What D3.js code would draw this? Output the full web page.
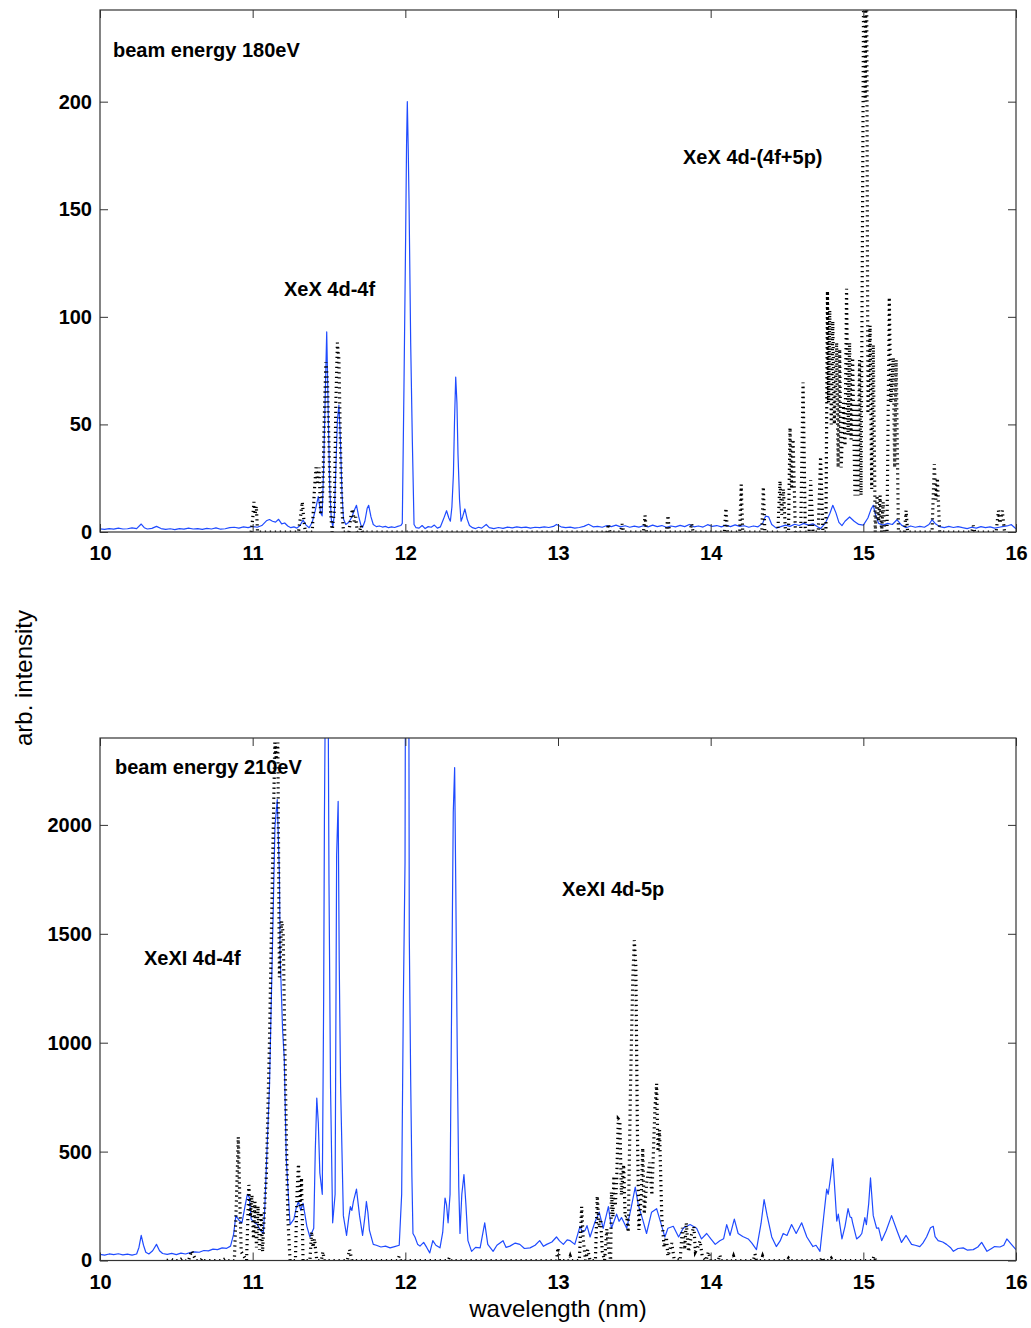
<!DOCTYPE html>
<html>
<head>
<meta charset="utf-8">
<script src="https://cdn.jsdelivr.net/npm/d3@7"></script>
<style>
  body { margin: 0; background: #fff; }
  svg { display: block; }
  text { font-family: "Liberation Sans", Arial, Helvetica, sans-serif; fill: #000; }
</style>
</head>
<body>
<svg id="chart" width="1031" height="1328"></svg>
<script>
// ---- axis ticks ----
const wavelengthTicks = [10, 11, 12, 13, 14, 15, 16];
const intensityTicks180 = [0, 50, 100, 150, 200];
const intensityTicks210 = [0, 500, 1000, 1500, 2000];

// ---- 180 eV: measured spectrum [wavelength nm, intensity] ----
const measured180 = [
  [10.00,1.5],[10.03,1.2],[10.06,1.6],[10.09,1.3],[10.12,1.8],[10.15,1.4],[10.18,1.5],[10.21,1.9],[10.24,1.6],
  [10.27,3.7],[10.29,2.0],[10.31,1.4],[10.34,1.7],[10.37,2.6],[10.40,1.6],[10.43,1.2],[10.46,1.5],[10.49,1.1],
  [10.52,1.6],[10.55,1.3],[10.58,1.8],[10.61,1.4],[10.64,1.6],[10.67,1.2],[10.70,1.7],[10.73,1.4],[10.76,1.9],
  [10.79,1.3],[10.82,1.5],[10.85,2.0],[10.88,2.2],[10.91,1.8],[10.94,2.4],[10.97,2.0],[11.00,2.6],[11.03,2.2],
  [11.06,3.0],[11.09,5.2],[11.11,5.8],[11.13,5.0],[11.15,4.6],[11.17,5.9],[11.19,3.8],[11.21,4.2],[11.23,2.8],
  [11.25,2.0],[11.27,2.4],[11.29,1.8],[11.31,3.0],[11.33,5.5],[11.35,3.2],[11.37,2.0],[11.39,4.5],[11.41,10.0],
  [11.43,16.5],[11.445,9.0],[11.455,7.5],[11.465,30],[11.475,62],[11.485,93],[11.495,55],[11.505,20],[11.515,6],
  [11.525,2.5],[11.535,8],[11.545,30],[11.555,52],[11.565,59],[11.575,42],[11.585,18],[11.595,6],[11.61,3.5],
  [11.63,4.5],[11.65,7],[11.665,10],[11.68,12.4],[11.695,7],[11.71,3],[11.72,2.2],[11.735,5],[11.75,11],
  [11.76,12.4],[11.775,7],[11.79,3.5],[11.81,2.5],[11.83,2.8],[11.85,2.3],[11.87,2.6],[11.89,2.0],[11.91,2.4],
  [11.93,2.1],[11.95,2.6],[11.97,3.0],[11.98,4],[11.991,67],[12.002,137],[12.008,180],[12.013,200],[12.019,178],
  [12.024,155],[12.035,88],[12.046,42],[12.057,3.5],[12.07,2.0],[12.09,1.8],[12.11,3.0],[12.13,1.6],[12.15,2.5],
  [12.17,2.2],[12.19,3.2],[12.21,1.8],[12.23,2.4],[12.25,6.0],[12.27,9.9],[12.285,6.5],[12.295,5.0],[12.305,11.6],
  [12.315,27],[12.322,51],[12.33,72],[12.338,60],[12.345,36],[12.355,15],[12.365,5],[12.375,7],[12.39,10.7],
  [12.405,6],[12.42,3],[12.44,2.0],[12.46,1.6],[12.48,2.2],[12.50,1.8],[12.53,3.5],[12.55,2.0],[12.58,1.6],
  [12.61,2.1],[12.64,1.7],[12.67,2.3],[12.70,1.9],[12.73,2.4],[12.76,2.0],[12.79,2.3],[12.82,1.8],[12.85,2.2],
  [12.88,2.0],[12.91,2.4],[12.94,2.1],[12.97,2.6],[12.99,3.5],[13.02,2.4],[13.05,2.0],[13.08,2.3],[13.11,1.8],
  [13.14,2.1],[13.17,2.6],[13.20,3.6],[13.23,2.4],[13.26,2.6],[13.29,2.2],[13.32,3.0],[13.35,2.5],[13.38,3.2],
  [13.41,2.4],[13.44,2.9],[13.47,2.2],[13.50,2.7],[13.53,2.3],[13.56,2.9],[13.59,2.4],[13.62,3.2],[13.65,2.5],
  [13.68,3.0],[13.71,2.2],[13.74,2.8],[13.77,2.4],[13.80,3.1],[13.83,2.5],[13.86,3.5],[13.89,2.4],[13.92,2.8],
  [13.95,2.3],[13.98,3.4],[14.01,2.6],[14.04,3.0],[14.07,2.4],[14.10,3.2],[14.13,2.5],[14.16,3.3],[14.19,2.6],
  [14.22,2.9],[14.25,2.2],[14.28,2.8],[14.31,2.4],[14.34,4.0],[14.36,7.4],[14.38,7.0],[14.40,3.5],[14.43,1.8],
  [14.46,2.5],[14.49,3.2],[14.52,2.6],[14.55,3.6],[14.58,3.0],[14.61,4.0],[14.64,3.2],[14.67,3.8],[14.70,2.4],
  [14.72,1.6],[14.75,4.0],[14.78,8.5],[14.80,12.4],[14.82,9.0],[14.84,4.5],[14.86,3.0],[14.88,5.0],[14.91,7.0],
  [14.94,5.0],[14.97,3.5],[15.00,3.2],[15.03,6.5],[15.05,10.5],[15.065,12.4],[15.08,8.0],[15.10,4.0],[15.13,3.2],
  [15.16,4.0],[15.19,3.5],[15.22,5.7],[15.25,3.2],[15.28,2.0],[15.31,2.8],[15.34,2.2],[15.37,2.6],[15.40,2.2],
  [15.43,3.5],[15.45,5.7],[15.47,4.0],[15.50,2.5],[15.53,2.0],[15.56,2.6],[15.59,2.1],[15.62,2.5],[15.65,2.0],
  [15.68,1.6],[15.71,2.2],[15.74,1.8],[15.77,2.5],[15.80,2.0],[15.83,2.4],[15.86,1.8],[15.89,2.2],[15.92,2.6],
  [15.95,3.0],[15.97,3.4],[16.00,1.5]
];

// ---- 180 eV: calculated XeX spectrum ----
const calculated180 = [
  [10.00,0],[10.99,0],[11.000,6],[11.008,14],[11.016,8],[11.024,12],[11.032,0],
  [11.30,0],[11.315,8],[11.325,14],[11.335,6],[11.345,0],
  [11.39,0],[11.405,20],[11.415,30],[11.425,22],[11.435,30],[11.445,8],[11.46,20],[11.47,55],[11.48,79],
  [11.49,70],[11.50,40],[11.51,10],[11.52,0],[11.535,10],[11.545,60],[11.555,88],[11.565,80],[11.575,40],
  [11.585,10],[11.595,0],[11.63,0],[11.645,8],[11.655,10.7],[11.665,5],[11.675,7],[11.685,0],[11.70,0],
  [11.71,3],[11.72,0],
  [13.32,0],[13.33,3.7],[13.34,0],[13.41,0],[13.42,3.7],[13.43,0],[13.56,0],[13.57,7.7],[13.58,0],
  [13.71,0],[13.72,7.7],[13.73,0],[13.865,0],[13.875,4],[13.885,0],[14.09,0],[14.10,11],[14.11,0],
  [14.19,0],[14.20,22],[14.21,0],[14.335,0],[14.345,21],[14.355,0],
  [14.44,0],[14.454,23.7],[14.465,8],[14.476,20],[14.49,0],[14.51,0],[14.52,48.5],[14.53,20],[14.54,43],
  [14.555,0],[14.59,0],[14.605,69.5],[14.62,0],[14.645,0],[14.655,24],[14.67,0],[14.705,0],[14.72,35],
  [14.735,0],[14.755,0],[14.765,112],[14.772,60],[14.78,103],[14.79,50],[14.80,98],[14.81,50],[14.825,88],
  [14.835,30],[14.845,85],[14.855,30],[14.87,60],[14.88,40],[14.89,113],[14.90,45],[14.91,88],[14.92,43],
  [14.93,81],[14.945,17],[14.955,60],[14.965,17],[14.975,80],[14.985,17],[14.995,150],[15.005,300],
  [15.012,200],[15.02,300],[15.03,55],[15.044,96],[15.055,20],[15.065,87],[15.078,0],[15.09,17],[15.10,5],
  [15.11,17],[15.12,0],[15.13,14],[15.14,0],[15.155,0],[15.17,109],[15.18,60],[15.196,81],[15.205,30],
  [15.215,80],[15.23,0],[15.27,0],[15.28,10],[15.29,0],[15.45,0],[15.465,31.6],[15.475,15],[15.485,25],
  [15.50,0],[15.71,0],[15.72,3],[15.73,0],[15.87,0],[15.885,10],[15.895,4],[15.91,10],[15.925,0],[16.00,0]
];

// ---- 210 eV: measured spectrum ----
const measured210 = [
  [10.00,28],[10.03,25],[10.06,30],[10.09,27],[10.12,31],[10.15,26],[10.18,29],[10.21,25],[10.24,30],
  [10.255,60],[10.27,115],[10.285,70],[10.30,38],[10.32,30],[10.345,45],[10.37,74],[10.39,45],[10.41,32],
  [10.44,28],[10.47,33],[10.50,27],[10.53,34],[10.56,30],[10.59,36],[10.62,40],[10.65,38],[10.68,46],
  [10.71,44],[10.74,52],[10.77,50],[10.80,58],[10.83,56],[10.855,66],[10.875,120],[10.89,206],[10.91,185],
  [10.93,173],[10.95,250],[10.965,304],[10.978,290],[10.99,190],[11.01,175],[11.03,165],[11.05,140],
  [11.07,124],[11.08,250],[11.09,435],[11.11,797],[11.13,1453],[11.146,1993],[11.161,2116],[11.175,1779],
  [11.18,1402],[11.196,1058],[11.207,927],[11.22,468],[11.245,165],[11.27,190],[11.285,240],[11.30,271],
  [11.315,230],[11.33,263],[11.355,157],[11.375,108],[11.40,148],[11.41,500],[11.42,746],[11.43,632],
  [11.44,402],[11.456,304],[11.465,1200],[11.47,2025],[11.48,3000],[11.49,3300],[11.50,1730],[11.51,797],
  [11.524,173],[11.54,304],[11.55,1862],[11.56,2108],[11.567,1370],[11.576,797],[11.594,206],[11.615,115],
  [11.63,200],[11.64,247],[11.65,230],[11.66,271],[11.68,328],[11.70,206],[11.72,115],[11.735,200],
  [11.745,271],[11.755,220],[11.765,138],[11.79,74],[11.81,70],[11.84,62],[11.87,66],[11.90,58],[11.93,64],
  [11.96,70],[11.976,304],[11.987,1190],[11.998,1830],[12.005,4000],[12.015,6000],[12.022,3000],
  [12.026,1485],[12.035,829],[12.043,386],[12.05,124],[12.063,108],[12.08,75],[12.096,66],[12.12,83],
  [12.14,60],[12.16,35],[12.18,91],[12.20,70],[12.227,58],[12.245,130],[12.26,287],[12.27,255],[12.28,173],
  [12.293,304],[12.30,911],[12.314,2059],[12.323,2263],[12.33,1747],[12.34,960],[12.35,337],[12.358,124],
  [12.37,304],[12.384,394],[12.397,255],[12.41,91],[12.434,42],[12.46,60],[12.49,58],[12.52,173],[12.54,74],
  [12.575,42],[12.60,70],[12.64,91],[12.66,60],[12.685,66],[12.72,80],[12.75,74],[12.78,55],[12.817,58],
  [12.85,70],[12.88,91],[12.905,65],[12.926,74],[12.96,85],[12.99,108],[13.01,90],[13.035,74],[13.06,95],
  [13.08,91],[13.11,74],[13.144,157],[13.16,130],[13.177,138],[13.19,160],[13.21,108],[13.24,173],
  [13.27,222],[13.296,148],[13.33,247],[13.35,148],[13.384,213],[13.40,180],[13.416,197],[13.45,148],
  [13.478,238],[13.506,337],[13.526,255],[13.554,190],[13.58,124],[13.613,222],[13.646,238],[13.68,157],
  [13.70,108],[13.72,148],[13.755,157],[13.79,108],[13.82,148],[13.865,165],[13.908,148],[13.94,99],
  [13.974,124],[14.00,100],[14.03,74],[14.06,91],[14.085,100],[14.105,165],[14.127,115],[14.155,190],
  [14.18,124],[14.21,110],[14.246,99],[14.27,80],[14.30,50],[14.33,170],[14.35,280],[14.37,206],[14.40,108],
  [14.43,64],[14.455,90],[14.475,124],[14.50,115],[14.53,165],[14.56,124],[14.596,173],[14.63,108],
  [14.67,64],[14.69,70],[14.716,42],[14.74,200],[14.76,328],[14.77,304],[14.785,380],[14.80,468],
  [14.815,304],[14.826,181],[14.836,213],[14.86,99],[14.88,157],[14.90,238],[14.913,200],[14.923,197],
  [14.93,173],[14.956,99],[14.975,110],[14.99,124],[15.01,197],[15.02,165],[15.035,260],[15.047,379],
  [15.065,206],[15.087,148],[15.10,150],[15.12,91],[15.15,138],[15.185,206],[15.22,138],[15.25,83],
  [15.28,115],[15.316,74],[15.34,70],[15.37,64],[15.39,80],[15.414,108],[15.44,150],[15.458,157],
  [15.47,110],[15.49,91],[15.52,85],[15.545,74],[15.57,60],[15.59,42],[15.62,55],[15.654,58],[15.68,48],
  [15.72,50],[15.75,62],[15.775,83],[15.81,42],[15.84,55],[15.86,64],[15.895,62],[15.92,70],[15.94,99],
  [15.97,74],[16.00,50]
];

// ---- 210 eV: calculated XeXI spectrum ----
const calculated210 = [
  [10.00,0],[10.44,0],[10.46,8],[10.48,0],[10.52,0],[10.54,10],[10.56,0],[10.58,0],[10.60,45],[10.615,20],
  [10.63,0],[10.66,0],[10.67,10],[10.68,0],[10.80,0],[10.82,8],[10.84,0],
  [10.88,0],[10.895,300],[10.906,567],[10.915,300],[10.925,40],[10.96,0],[10.975,347],[10.985,200],
  [10.995,300],[11.005,100],[11.015,270],[11.025,60],[11.035,250],[11.045,50],[11.055,220],[11.065,40],
  [11.075,200],[11.09,400],[11.11,1000],[11.13,1800],[11.145,2378],[11.155,2300],[11.165,2378],
  [11.175,1300],[11.19,1559],[11.20,1500],[11.215,800],[11.23,200],[11.245,0],[11.28,0],[11.29,300],
  [11.30,443],[11.31,250],[11.32,380],[11.33,0],[11.375,0],[11.386,132],[11.395,60],[11.405,100],
  [11.42,0],[11.45,0],[11.46,40],[11.47,0],[11.62,0],[11.635,50],[11.65,0],[11.95,0],[11.96,20],[11.97,0],
  [12.28,0],[12.29,15],[12.30,0],[12.99,0],[13.00,58],[13.01,0],[13.07,0],[13.08,20],[13.09,0],
  [13.14,0],[13.155,247],[13.165,100],[13.18,0],[13.195,50],[13.21,0],[13.245,0],[13.257,296],[13.27,150],
  [13.28,190],[13.29,40],[13.305,0],[13.32,145],[13.33,60],[13.345,0],[13.35,315],[13.36,200],[13.366,388],
  [13.375,250],[13.384,362],[13.395,650],[13.405,642],[13.415,300],[13.43,440],[13.44,200],[13.45,206],
  [13.46,130],[13.475,800],[13.49,1300],[13.50,1470],[13.51,1350],[13.52,600],[13.53,140],[13.545,300],
  [13.555,517],[13.565,213],[13.58,350],[13.60,450],[13.615,300],[13.635,700],[13.646,812],[13.655,500],
  [13.665,600],[13.68,200],[13.695,60],[13.71,108],[13.72,20],[13.745,80],[13.76,10],[13.80,0],[13.815,150],
  [13.83,50],[13.84,173],[13.855,40],[13.875,120],[13.89,157],[13.90,40],[13.915,60],[13.93,90],
  [13.945,20],[13.97,0],[13.985,40],[14.00,0],[14.05,0],[14.06,25],[14.07,0],[14.14,0],[14.15,20],
  [14.16,0],[14.28,0],[14.29,30],[14.30,0],[14.33,0],[14.34,20],[14.35,0],[14.50,0],[14.51,10],[14.52,0],
  [14.72,0],[14.73,15],[14.74,0],[14.78,0],[14.79,10],[14.80,0],[15.06,0],[15.07,20],[15.08,0],[16.00,0]
];

// ---- text annotations (data coordinates) ----
const notes180 = [
  { text: "beam energy 180eV", x: 10.085, y: 220.7 },
  { text: "XeX 4d-4f", x: 11.205, y: 109.7 },
  { text: "XeX 4d-(4f+5p)", x: 13.819, y: 171 }
];
const notes210 = [
  { text: "beam energy 210eV", x: 10.098, y: 2233 },
  { text: "XeXI 4d-4f", x: 10.288, y: 1357 },
  { text: "XeXI 4d-5p", x: 13.026, y: 1673 }
];

const svg = d3.select("#chart");
const left = 100, right = 1016;
const x = d3.scaleLinear().domain([10, 16]).range([left, right]);

const panels = [
  { id: "p180", top: 10, bottom: 532, ymax: 242.6, ticks: intensityTicks180,
    measured: measured180, calculated: calculated180, notes: notes180 },
  { id: "p210", top: 738, bottom: 1260.5, ymax: 2399, ticks: intensityTicks210,
    measured: measured210, calculated: calculated210, notes: notes210 }
];

const axisColor = "#333";
const tickLen = 8;

// the calculated spectrum is only stroked where it (or a neighbour) is above zero
const nonZeroRun = (d, i, arr) =>
  d[1] > 0 || (i > 0 && arr[i - 1][1] > 0) || (i < arr.length - 1 && arr[i + 1][1] > 0);

panels.forEach(p => {
  const y = d3.scaleLinear().domain([0, p.ymax]).range([p.bottom, p.top]);
  const g = svg.append("g");

  g.append("clipPath").attr("id", "clip-" + p.id)
    .append("rect").attr("x", left).attr("y", p.top)
    .attr("width", right - left).attr("height", p.bottom - p.top);

  // annotations
  g.selectAll("text.note").data(p.notes).join("text")
    .attr("class", "note")
    .attr("x", d => x(d.x)).attr("y", d => y(d.y))
    .attr("font-size", 20).attr("font-weight", "bold")
    .text(d => d.text);

  const line = d3.line().x(d => x(d[0])).y(d => y(d[1]));
  const plot = g.append("g").attr("clip-path", `url(#clip-${p.id})`);

  plot.append("path").datum(p.measured)
    .attr("d", line).attr("fill", "none")
    .attr("stroke", "#1f4bff").attr("stroke-width", 1.2)
    .attr("stroke-linejoin", "round");

  // thick, sparse dotted stroke: steep flanks turn into short horizontal bars
  plot.append("path").datum(p.calculated)
    .attr("d", line.defined(nonZeroRun)).attr("fill", "none")
    .attr("stroke", "#000").attr("stroke-width", 3.2)
    .attr("stroke-linecap", "butt")
    .attr("stroke-dasharray", "1.3,3.7");

  // axes with inward ticks on all four sides
  const styleAxis = sel => {
    sel.select(".domain").remove();
    sel.selectAll(".tick line").attr("stroke", axisColor);
    sel.selectAll(".tick text").attr("font-size", 20).attr("font-weight", "bold")
      .attr("fill", "#000").attr("font-family", '"Liberation Sans", Arial, sans-serif');
  };

  g.append("g").attr("transform", `translate(0,${p.bottom})`)
    .call(d3.axisBottom(x).tickValues(wavelengthTicks).tickFormat(d3.format("d"))
      .tickSizeInner(-tickLen).tickSizeOuter(0).tickPadding(14))
    .call(styleAxis);
  g.append("g").attr("transform", `translate(0,${p.top})`)
    .call(d3.axisTop(x).tickValues(wavelengthTicks).tickFormat("")
      .tickSizeInner(-tickLen).tickSizeOuter(0))
    .call(styleAxis);
  g.append("g").attr("transform", `translate(${left},0)`)
    .call(d3.axisLeft(y).tickValues(p.ticks).tickFormat(d3.format("d"))
      .tickSizeInner(-tickLen).tickSizeOuter(0).tickPadding(8))
    .call(styleAxis);
  g.append("g").attr("transform", `translate(${right},0)`)
    .call(d3.axisRight(y).tickValues(p.ticks).tickFormat("")
      .tickSizeInner(-tickLen).tickSizeOuter(0))
    .call(styleAxis);

  g.append("rect").attr("x", left).attr("y", p.top)
    .attr("width", right - left).attr("height", p.bottom - p.top)
    .attr("fill", "none").attr("stroke", axisColor).attr("stroke-width", 1.2);
});

// axis titles
svg.append("text")
  .attr("x", 558).attr("y", 1317)
  .attr("text-anchor", "middle").attr("font-size", 24)
  .text("wavelength (nm)");

svg.append("text")
  .attr("transform", "translate(32,678) rotate(-90)")
  .attr("text-anchor", "middle").attr("font-size", 24)
  .text("arb. intensity");
</script>
</body>
</html>
